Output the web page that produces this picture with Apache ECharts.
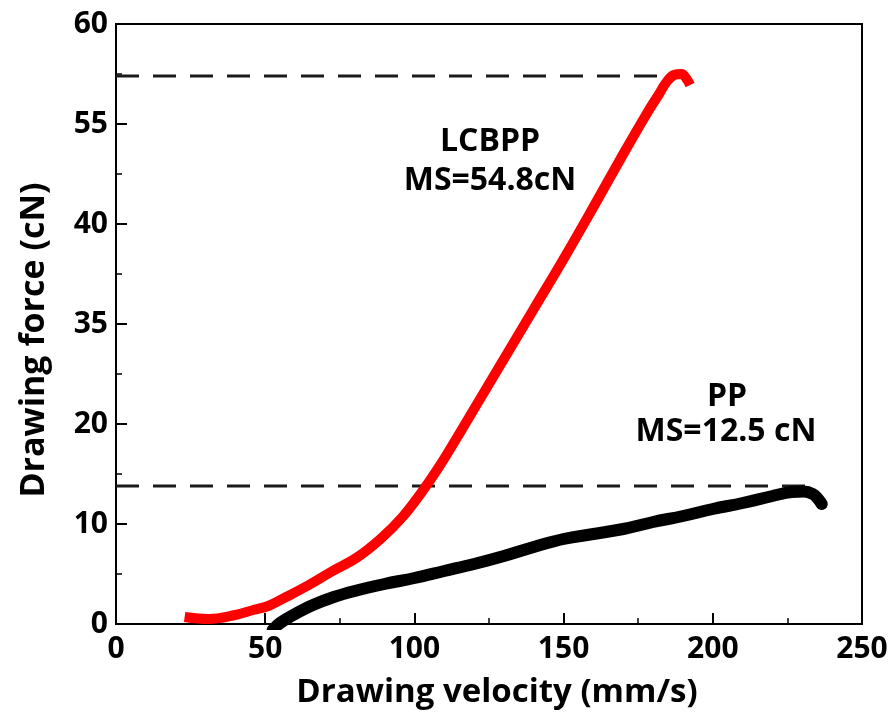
<!DOCTYPE html>
<html>
<head>
<meta charset="utf-8">
<script src="https://cdn.jsdelivr.net/npm/echarts@6/dist/echarts.min.js"></script>
<style>html,body{margin:0;padding:0;background:#fff;}#c{width:896px;height:718px;}</style>
</head>
<body>
<div id="c"></div>
<script>
// Data (x: drawing velocity mm/s, y: position on the drawn force axis)
const yTickLabels = ['0', '10', '20', '35', '40', '55', '60'];
const lcbppX = [23, 31, 40, 46, 51, 57, 64, 72, 81, 89, 96, 102, 108, 114, 120, 130, 140, 150, 160, 170, 178, 182, 184.5, 187, 189.5, 191, 192.4];
const lcbppY = [0.7, 0.5, 0.9, 1.4, 1.8, 2.7, 3.8, 5.2, 6.7, 8.6, 10.7, 13.0, 15.6, 18.5, 21.5, 26.5, 31.5, 36.5, 41.7, 47.0, 51.1, 53.0, 54.2, 54.9, 55.0, 54.6, 53.9];
const ppX = [52.5, 55, 60, 66, 73, 80, 90, 100, 110, 120, 130, 140, 150, 160, 170, 180, 190, 200, 210, 220, 226.5, 230.5, 233.5, 235.3, 236.5];
const ppY = [-0.6, 0.1, 1.0, 1.9, 2.7, 3.3, 4.0, 4.6, 5.3, 6.0, 6.8, 7.7, 8.5, 9.0, 9.5, 10.2, 10.8, 11.5, 12.1, 12.8, 13.2, 13.25, 13.0, 12.5, 12.0];
const msLcbppX = [0, 181.3];
const msLcbppY = [54.8, 54.8];
const msPpX = [0, 232.6];
const msPpY = [13.8, 13.8];

const zip = (xs, ys) => xs.map((x, i) => [x, ys[i]]);
const FONT = '"Open Sans", "Noto Sans", sans-serif';
const txt = (text, x, y, size, rot) => ({ type: 'text', x: x, y: y, rotation: rot || 0, style: { text: text, align: 'center', verticalAlign: 'middle', fontFamily: FONT, fontWeight: 'bold', fontSize: size, fill: '#000' } });

const chart = echarts.init(document.getElementById('c'));
chart.setOption({
  animation: false,
  backgroundColor: '#fff',
  grid: { left: 116, right: 34, top: 24, bottom: 94, show: true, borderColor: '#000', borderWidth: 2, backgroundColor: 'transparent' },
  xAxis: {
    type: 'value', min: 0, max: 250, interval: 50,
    axisLine: { onZero: false, lineStyle: { color: '#000', width: 2 } },
    axisTick: { inside: true, length: 11, lineStyle: { color: '#000', width: 2 } },
    minorTick: { show: true, splitNumber: 2, length: 6, lineStyle: { color: '#000', width: 1.5 } },
    axisLabel: { fontFamily: FONT, fontWeight: 'bold', fontSize: 30, color: '#000', margin: 10 },
    splitLine: { show: false }
  },
  yAxis: {
    type: 'value', min: 0, max: 60, interval: 10,
    axisLine: { onZero: false, lineStyle: { color: '#000', width: 2 } },
    axisTick: { inside: true, length: 11, lineStyle: { color: '#000', width: 2 } },
    minorTick: { show: true, splitNumber: 2, length: 6, lineStyle: { color: '#000', width: 1.5 } },
    axisLabel: { fontFamily: FONT, fontWeight: 'bold', fontSize: 30, color: '#000', margin: 8,
      formatter: v => yTickLabels[Math.round(v / 10)] },
    splitLine: { show: false }
  },
  series: [
    { type: 'line', data: zip(msLcbppX, msLcbppY), showSymbol: false, silent: true, z: 1,
      lineStyle: { color: '#1a1a1a', width: 3, type: [23, 14] } },
    { type: 'line', data: zip(msPpX, msPpY), showSymbol: false, silent: true, z: 1,
      lineStyle: { color: '#1a1a1a', width: 3, type: [23, 14] } },
    { type: 'line', data: zip(ppX, ppY), showSymbol: false, smooth: 0.4, clip: true, z: 2,
      lineStyle: { color: '#000', width: 12, cap: 'round', join: 'round' } },
    { type: 'line', data: zip(lcbppX, lcbppY), showSymbol: false, smooth: 0.4, clip: true, z: 3,
      lineStyle: { color: '#ff0000', width: 10, cap: 'butt', join: 'round' } }
  ],
  graphic: [
    txt('Drawing force (cN)', 34, 340, 34, Math.PI / 2),
    txt('Drawing velocity (mm/s)', 497, 693, 33),
    txt('LCBPP', 490, 142, 32),
    txt('MS=54.8cN', 490, 181, 32),
    txt('PP', 727, 397, 32),
    txt('MS=12.5 cN', 726, 432, 32)
  ]
});
</script>
</body>
</html>
